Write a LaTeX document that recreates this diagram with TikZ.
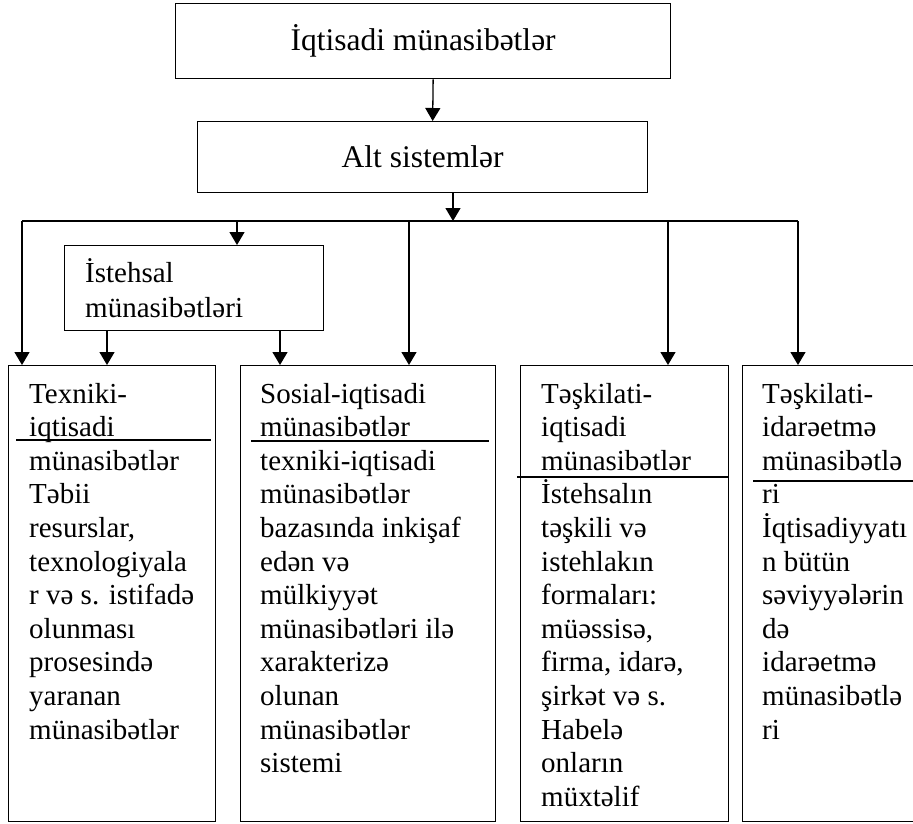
\documentclass[tikz,border=0pt]{standalone}
\usepackage{fontspec}
\setmainfont{Liberation Serif}
\usetikzlibrary{arrows.meta}
\newcommand{\bl}[1]{\vtop{\baselineskip=33.6pt\lineskiplimit=-20pt #1}}
\begin{document}
\begin{tikzpicture}[x=1pt,y=-1pt,
  box/.style={draw,line width=1.3pt,inner sep=0pt,anchor=north west},
  txt/.style={inner sep=0pt,anchor=base west,font=\fontsize{29}{33.6}\selectfont},
  ttl/.style={inner sep=0pt,font=\fontsize{31.5}{36}\selectfont},
  arr/.style={line width=1.3pt,-{Triangle[width=15pt,length=13pt]}},
  ln/.style={line width=1.3pt}]
\useasboundingbox (0,0) rectangle (913,823);
% top boxes
\node[box,minimum width=495pt,minimum height=75pt] (top) at (175,3) {};
\node[ttl] (toptxt) at (top.center) {İqtisadi münasibətlər};
\node[box,minimum width=450pt,minimum height=71pt] (alt) at (197,121) {};
\node[ttl] (alttxt) at (alt.center) {Alt sistemlər};
% istehsal
\node[box,minimum width=259pt,minimum height=85pt] (ist) at (64,245) {};
\node[txt] (isttxt) at (85,282) {\vtop{\baselineskip=35pt\hbox{İstehsal}\hbox{münasibətləri}}};
% bottom boxes
\node[box,minimum width=207pt,minimum height=456pt] (b1) at (8,365) {};
\node[box,minimum width=255pt,minimum height=456pt] (b2) at (240,365) {};
\node[box,minimum width=208pt,minimum height=456pt] (b3) at (520,365) {};
\node[box,minimum width=180pt,minimum height=456pt] (b4) at (742,365) {};
% texts
\node[txt] (t1) at (29,403) {\bl{\hbox{Texniki-}\hbox{iqtisadi}\hbox{münasibətlər}\hbox{Təbii}\hbox{resurslar,}\hbox{texnologiyala}\hbox{r və s. istifadə}\hbox{olunması}\hbox{prosesində}\hbox{yaranan}\hbox{münasibətlər}}};
\node[txt] (t2) at (260,403) {\bl{\hbox{Sosial-iqtisadi}\hbox{münasibətlər}\hbox{texniki-iqtisadi}\hbox{münasibətlər}\hbox{bazasında inkişaf}\hbox{edən və}\hbox{mülkiyyət}\hbox{münasibətləri ilə}\hbox{xarakterizə}\hbox{olunan}\hbox{münasibətlər}\hbox{sistemi}}};
\node[txt] (t3) at (541,403) {\bl{\hbox{Təşkilati-}\hbox{iqtisadi}\hbox{münasibətlər}\hbox{İstehsalın}\hbox{təşkili və}\hbox{istehlakın}\hbox{formaları:}\hbox{müəssisə,}\hbox{firma, idarə,}\hbox{şirkət və s.}\hbox{Habelə}\hbox{onların}\hbox{müxtəlif}}};
\node[txt] (t4) at (762,403) {\bl{\hbox{Təşkilati-}\hbox{idarəetmə}\hbox{münasibətlə}\hbox{ri}\hbox{İqtisadiyyatı}\hbox{n bütün}\hbox{səviyyələrin}\hbox{də}\hbox{idarəetmə}\hbox{münasibətlə}\hbox{ri}}};
% dividing lines
\draw[ln] (16,440) -- (211,440);
\draw[ln] (251,441) -- (489,441);
\draw[ln] (517,477) -- (b3.east |- 0,477);
\draw[ln] (753,481) -- (913,481);
% connectors
\coordinate (bus) at (453,221);
\coordinate (busL) at (22,221);
\coordinate (busR) at (798,221);
\draw[arr] ([xshift=10pt]top.south) -- ([xshift=10pt]alt.north);
\draw[arr] (alt.south -| bus) -- (bus);
\draw[ln] (busL) -- (busR);
\draw[arr] (busL) -- (b1.north -| busL);
\draw[arr] (237,221) -- (ist.north -| 237,0);
\draw[arr] (409,221) -- (b2.north -| 409,0);
\draw[arr] (668,221) -- (b3.north -| 668,0);
\draw[arr] (busR) -- (b4.north -| busR);
\draw[arr] (ist.south -| 107,0) -- (b1.north -| 107,0);
\draw[arr] (ist.south -| 280,0) -- (b2.north -| 280,0);
\end{tikzpicture}
\end{document}
